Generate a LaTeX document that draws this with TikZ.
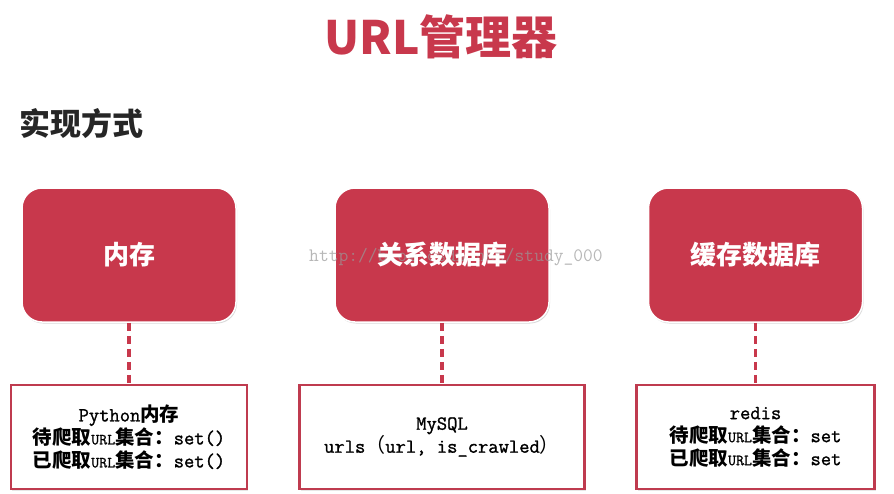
\documentclass[tikz,border=0pt]{standalone}
\usepackage{fontspec}
\setmainfont{Liberation Serif}
\newfontfamily\cjk{Noto Sans CJK SC}
\newfontfamily\codefont{Latin Modern Mono}[FakeBold=1.2]
\usetikzlibrary{positioning, shadows}
\definecolor{urlred}{HTML}{C8384C}
\definecolor{lineRed}{HTML}{BF3B4F}
\newcommand{\urltag}{{\codefont\fontsize{15.5}{23}\selectfont URL}}
\newcommand{\zh}[1]{{\cjk\bfseries\fontsize{19.5}{23}\selectfont #1}}

\begin{document}
\begin{tikzpicture}[x=1pt, y=-1pt, node distance=61pt,
	topbox/.style={rectangle, rounded corners=20pt, fill=urlred, draw=white, line width=1.5pt, minimum width=214pt, minimum height=134pt, drop shadow={opacity=0.3, shadow xshift=1pt, shadow yshift=-1.5pt}},
	boxtext/.style={text=white, font=\cjk\bfseries\fontsize{26}{30}\selectfont},
	detail/.style={rectangle, draw=lineRed, fill=white, line width=2.5pt, minimum height=104pt, align=center, font=\codefont\fontsize{20}{23}\selectfont, drop shadow={opacity=0.2, shadow xshift=1pt, shadow yshift=-1.5pt}},
	link/.style={draw=urlred, line width=3.5pt, dash pattern=on 8pt off 5pt}]

		\useasboundingbox (0,0) rectangle (894,493);

		\node[text=urlred, font=\cjk\bfseries\fontsize{46}{50}\selectfont] (title) at (441,37) {URL管理器};
		\node[anchor=west, text=black!85, font=\cjk\bfseries\fontsize{31}{34}\selectfont] (way) at (16,124) {实现方式};

		\node[topbox] (mem) at (129,255) {};
		\node[topbox] (rdb) at (442,255) {};
		\node[topbox] (cache) at (755.5,255) {};

		% watermark of the screenshot
		\node[text=black!40, text opacity=0.7, font=\ttfamily\fontsize{19}{19}\selectfont] (mark) at (456,257) {http://blog.csdn.net/study\_000};

		\node[boxtext] (memtext) at (mem) {内存};
		\node[boxtext] (rdbtext) at (rdb) {关系数据库};
		\node[boxtext] (cachetext) at (cache) {缓存数据库};

		\node[detail, minimum width=236pt] (memset) [below=of mem] {Python\zh{内存}\\\zh{待爬取}\urltag\zh{集合：}set()\\\zh{已爬取}\urltag\zh{集合：}set()};
		\node[detail, minimum width=285pt] (rdbset) [below=of rdb] {MySQL\\urls{\cjk （}url, is\_crawled{\cjk ）}};
		\node[detail, minimum width=238pt] (cacheset) [below=of cache] {redis\\\zh{待爬取}\urltag\zh{集合：}set\\\zh{已爬取}\urltag\zh{集合：}set};

		\path[link]
		(mem) -- (memset)
		(rdb) -- (rdbset)
		(cache) -- (cacheset);

\end{tikzpicture}
\end{document}
